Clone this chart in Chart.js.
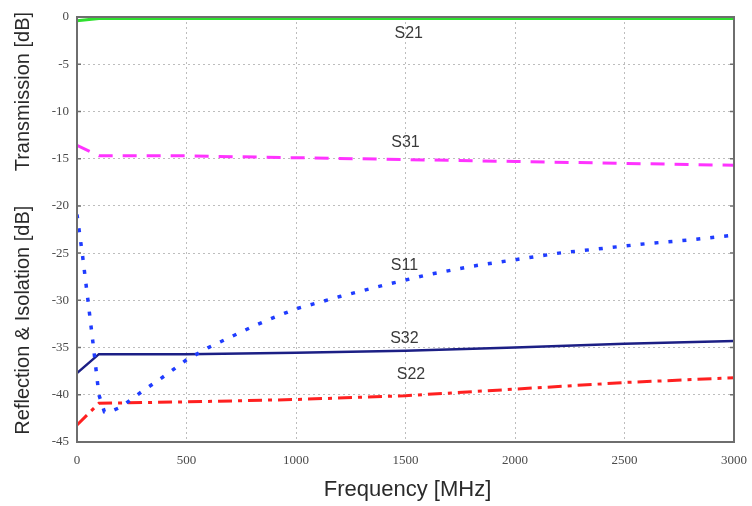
<!DOCTYPE html>
<html>
<head>
<meta charset="utf-8">
<script src="https://cdn.jsdelivr.net/npm/chart.js@4.4.1/dist/chart.umd.min.js"></script>
<style>
  html, body { margin: 0; padding: 0; background: #fff; }
  #wrap { width: 752px; height: 506px; }
</style>
</head>
<body>
<div id="wrap"><canvas id="c" width="752" height="506"></canvas></div>
<script>
// ---- Data ----
const xTicks = [0, 500, 1000, 1500, 2000, 2500, 3000];
const yTicks = [0, -5, -10, -15, -20, -25, -30, -35, -40, -45];

const s21Freq = [0, 100, 500, 1000, 1500, 2000, 2500, 3000];
const s21Val  = [-0.4, -0.15, -0.15, -0.15, -0.15, -0.15, -0.15, -0.15];

const s31Freq = [0, 100, 500, 1000, 1500, 2000, 2500, 3000];
const s31Val  = [-13.6, -14.7, -14.7, -14.9, -15.1, -15.3, -15.5, -15.7];

const s11Freq = [0, 25, 50, 75, 100, 125, 150, 200, 300, 400, 500, 600, 700, 800, 900, 1000, 1200, 1400, 1600, 1800, 2000, 2200, 2400, 2600, 2800, 3000];
const s11Val  = [-20.9, -25.2, -30.0, -34.9, -40.0, -41.8, -41.8, -41.3, -39.6, -38.0, -36.3, -35.0, -33.9, -32.8, -31.8, -30.9, -29.6, -28.4, -27.3, -26.4, -25.7, -25.0, -24.5, -24.0, -23.6, -23.1];

const s32Freq = [0, 100, 500, 1000, 1500, 2000, 2500, 3000];
const s32Val  = [-37.7, -35.7, -35.7, -35.55, -35.35, -35.0, -34.6, -34.3];

const s22Freq = [0, 100, 500, 1000, 1500, 2000, 2500, 3000];
const s22Val  = [-43.2, -40.9, -40.75, -40.5, -40.1, -39.4, -38.7, -38.2];

const seriesNames = ['S21', 'S31', 'S11', 'S32', 'S22'];
const labelFreq   = [1515, 1500, 1495, 1495, 1525];
const labelDb     = [-1.8, -13.3, -26.3, -34.0, -37.9];

const xTitle = 'Frequency [MHz]';
const yTitleTop = 'Transmission [dB]';
const yTitleBottom = 'Reflection & Isolation [dB]';

function pts(xs, ys) { return xs.map((x, i) => ({ x: x, y: ys[i] })); }

const SANS = '"Liberation Sans", Arial, sans-serif';
const SERIF = '"Liberation Serif", "Times New Roman", serif';

const decorPlugin = {
  id: 'decor',
  afterDatasetsDraw(chart) {
    const ctx = chart.ctx, a = chart.chartArea;
    const xs = chart.scales.x, ys = chart.scales.y;
    ctx.save();
    // frame
    ctx.strokeStyle = '#6e6e6e';
    ctx.lineWidth = 2;
    ctx.setLineDash([]);
    ctx.strokeRect(a.left, a.top, a.right - a.left, a.bottom - a.top);
    // inward ticks on left and right
    ctx.lineWidth = 1.5;
    yTicks.forEach(v => {
      const py = ys.getPixelForValue(v);
      ctx.beginPath();
      ctx.moveTo(a.left, py); ctx.lineTo(a.left + 4, py);
      ctx.moveTo(a.right, py); ctx.lineTo(a.right - 4, py);
      ctx.stroke();
    });
    // series labels
    ctx.fillStyle = '#3a3a3a';
    ctx.font = '16px ' + SANS;
    ctx.textAlign = 'center';
    ctx.textBaseline = 'middle';
    seriesNames.forEach((n, i) => {
      ctx.fillText(n, xs.getPixelForValue(labelFreq[i]), ys.getPixelForValue(labelDb[i]));
    });
    // y titles
    ctx.fillStyle = '#2a2a2a';
    ctx.font = '20px ' + SANS;
    ctx.save();
    ctx.translate(23, ys.getPixelForValue(-7.9));
    ctx.rotate(-Math.PI / 2);
    ctx.fillText(yTitleTop, 0, 0);
    ctx.restore();
    ctx.save();
    ctx.translate(23, ys.getPixelForValue(-32.1));
    ctx.rotate(-Math.PI / 2);
    ctx.fillText(yTitleBottom, 0, 0);
    ctx.restore();
    // x title
    ctx.font = '22px ' + SANS;
    ctx.fillText(xTitle, (a.left + a.right) / 2 + 2, 490);
    ctx.restore();
  }
};

new Chart(document.getElementById('c'), {
  type: 'line',
  data: {
    datasets: [
      { label: 'S21', data: pts(s21Freq, s21Val), borderColor: '#2ee02e', borderWidth: 3, pointRadius: 0, fill: false },
      { label: 'S31', data: pts(s31Freq, s31Val), borderColor: '#ff33ff', borderWidth: 3, borderDash: [14, 10], pointRadius: 0, fill: false },
      { label: 'S11', data: pts(s11Freq, s11Val), borderColor: '#1f3cff', borderWidth: 3.5, borderDash: [4, 10], pointRadius: 0, fill: false },
      { label: 'S32', data: pts(s32Freq, s32Val), borderColor: '#1c1f85', borderWidth: 2.5, pointRadius: 0, fill: false },
      { label: 'S22', data: pts(s22Freq, s22Val), borderColor: '#ff2020', borderWidth: 3, borderDash: [14, 6, 4, 6], pointRadius: 0, fill: false }
    ]
  },
  options: {
    responsive: false,
    animation: false,
    devicePixelRatio: 1,
    layout: { padding: { left: 0, right: 18, top: 17, bottom: 0 } },
    plugins: { legend: { display: false }, tooltip: { enabled: false } },
    scales: {
      x: {
        type: 'linear', min: 0, max: 3000,
        afterFit(s) { s.height = 64; s.paddingRight = 0; s.paddingLeft = 0; },
        afterBuildTicks(s) { s.ticks = xTicks.map(v => ({ value: v })); },
        ticks: { color: '#4a4a4a', font: { family: SERIF, size: 13 }, padding: 11, maxRotation: 0,
                 callback: v => String(v) },
        grid: { color: '#bdbdbd', lineWidth: 1, drawTicks: false },
        border: { display: true, color: '#6e6e6e', width: 2, dash: [2, 3] }
      },
      y: {
        type: 'linear', min: -45, max: 0,
        afterFit(s) { s.width = 77; s.paddingTop = 0; s.paddingBottom = 0; },
        afterBuildTicks(s) { s.ticks = yTicks.map(v => ({ value: v })); },
        ticks: { color: '#4a4a4a', font: { family: SERIF, size: 13 }, padding: 8,
                 callback: v => String(v) },
        grid: { color: '#bdbdbd', lineWidth: 1, drawTicks: false },
        border: { display: true, color: '#6e6e6e', width: 2, dash: [2, 3] }
      }
    }
  },
  plugins: [decorPlugin]
});
</script>
</body>
</html>
